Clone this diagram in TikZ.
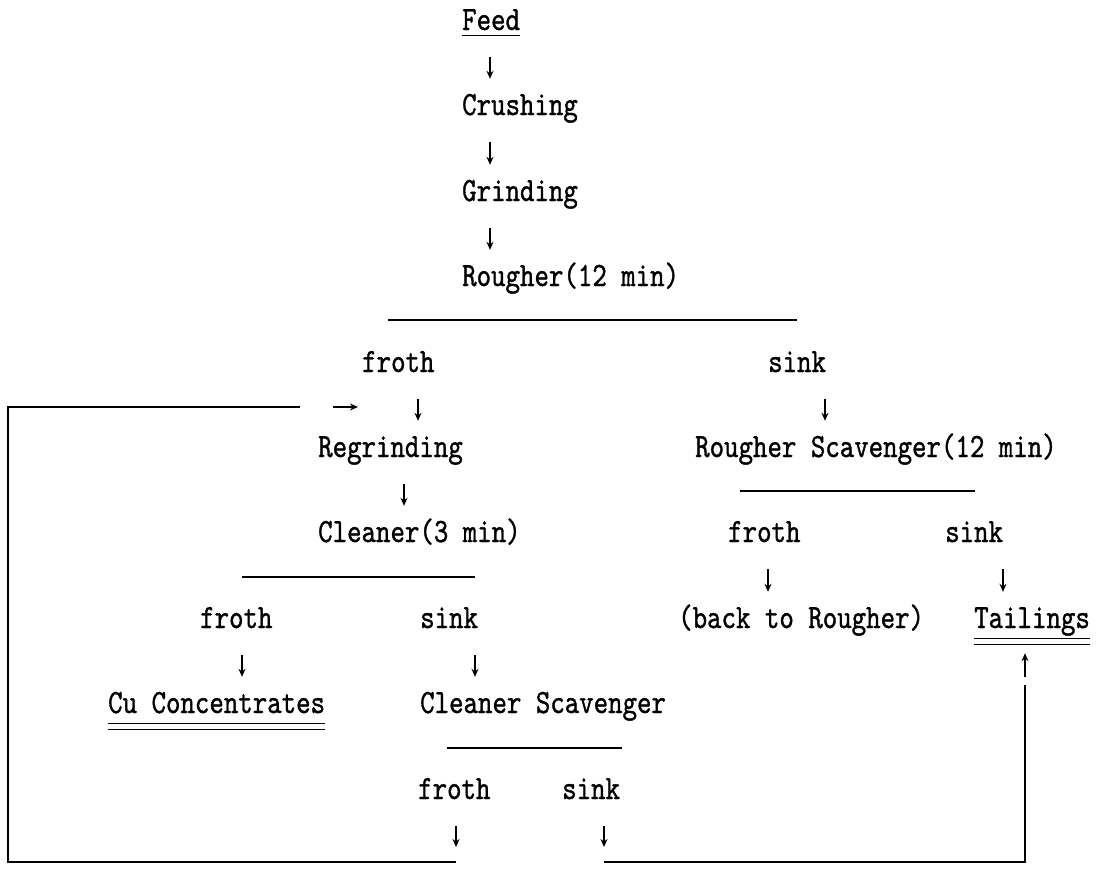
\documentclass[tikz,border=0pt]{standalone}
\usepackage{fontspec}
\newfontfamily\twfont[FakeStretch=0.81,FakeBold=1]{lmmono10-regular.otf}
\usetikzlibrary{arrows.meta}
\tikzset{
  txt/.style={anchor=base west, inner sep=0pt, text height=21pt, text depth=5pt,
    font=\twfont\fontsize{34}{36}\selectfont},
  flow/.style={-{Stealth[length=8pt,width=7pt]}, line width=1.6pt,
    shorten <=22pt, shorten >=15pt},
  rule/.style={line width=1.5pt},
  uline/.style={line width=1.2pt},
}
\begin{document}
\begin{tikzpicture}[x=1pt,y=-1pt]
\useasboundingbox (0,0) rectangle (1097,878);
% main line
\node[txt] (feed) at (462,30) {Feed};
\node[txt] (crushing) at (462,115) {Crushing};
\node[txt] (grinding) at (462,201) {Grinding};
\node[txt] (rougher) at (462,286) {Rougher(12 min)};
\node[txt] (rfroth) at (362,372) {froth};
\node[txt] (rsink) at (768,372) {sink};
\node[txt] (regrinding) at (318,457) {Regrinding};
\node[txt] (rscav) at (695,457) {Rougher Scavenger(12 min)};
\node[txt] (cleaner) at (318,542) {Cleaner(3 min)};
\node[txt] (sfroth) at (728,542) {froth};
\node[txt] (ssink) at (945,542) {sink};
\node[txt] (cfroth) at (200,628) {froth};
\node[txt] (csink) at (420,628) {sink};
\node[txt] (back) at (678,628) {(back to Rougher)};
\node[txt] (tailings) at (974,628) {Tailings};
\node[txt] (cuconc) at (108,713) {Cu Concentrates};
\node[txt] (cscav) at (420,713) {Cleaner Scavenger};
\node[txt] (csfroth) at (418,799) {froth};
\node[txt] (cssink) at (562,799) {sink};
% loop corners
\coordinate (lend) at (300,407);
\coordinate (ltop) at (8,407);
\coordinate (lbot) at (8,862);
\coordinate (bfroth) at (456,862);
\coordinate (bsink) at (604,862);
\coordinate (rbot) at (1025,862);
\coordinate (rtop) at (1025,685);
% split lines
\draw[rule] (388,320) -- (797,320);
\draw[rule] (740,491) -- (975,491);
\draw[rule] (242,577) -- (475,577);
\draw[rule] (447,748) -- (622,748);
% underlines
\draw[uline] (feed.south west) -- (feed.south east);
\draw[uline] ([yshift=-5pt]tailings.south west) -- ([yshift=-5pt]tailings.south east);
\draw[uline] ([yshift=-11pt]tailings.south west) -- ([yshift=-11pt]tailings.south east);
\draw[uline] ([yshift=-5pt]cuconc.south west) -- ([yshift=-5pt]cuconc.south east);
\draw[uline] ([yshift=-11pt]cuconc.south west) -- ([yshift=-11pt]cuconc.south east);
% arrows
\draw[flow] (feed.south -| 490,0) -- (crushing.north -| 490,0);
\draw[flow] (crushing.south -| 490,0) -- (grinding.north -| 490,0);
\draw[flow] (grinding.south -| 490,0) -- (rougher.north -| 490,0);
\draw[flow] (rfroth.south -| 418,0) -- (regrinding.north -| 418,0);
\draw[flow] (rsink.south -| 825,0) -- (rscav.north -| 825,0);
\draw[flow] (regrinding.south -| 404,0) -- (cleaner.north -| 404,0);
\draw[flow] (sfroth.south -| 768,0) -- (back.north -| 768,0);
\draw[flow] (ssink.south -| 1003,0) -- (tailings.north -| 1003,0);
\draw[flow] (cfroth.south -| 242,0) -- (cuconc.north -| 242,0);
\draw[flow] (csink.south -| 475,0) -- (cscav.north -| 475,0);
\draw[flow] (csfroth.south -| bfroth) -- (bfroth);
\draw[flow] (cssink.south -| bsink) -- (bsink);
% return lines
\draw[rule] (lend) -- (ltop) -- (lbot) -- (bfroth);
\draw[rule] (bsink) -- (rbot) -- (rtop);
\draw[flow, shorten <=33pt, shorten >=60pt] (lend) -- (lend -| 418,0);
\draw[flow, shorten <=8pt, shorten >=20pt] (rtop) -- (tailings.south -| rtop);
\end{tikzpicture}
\end{document}
